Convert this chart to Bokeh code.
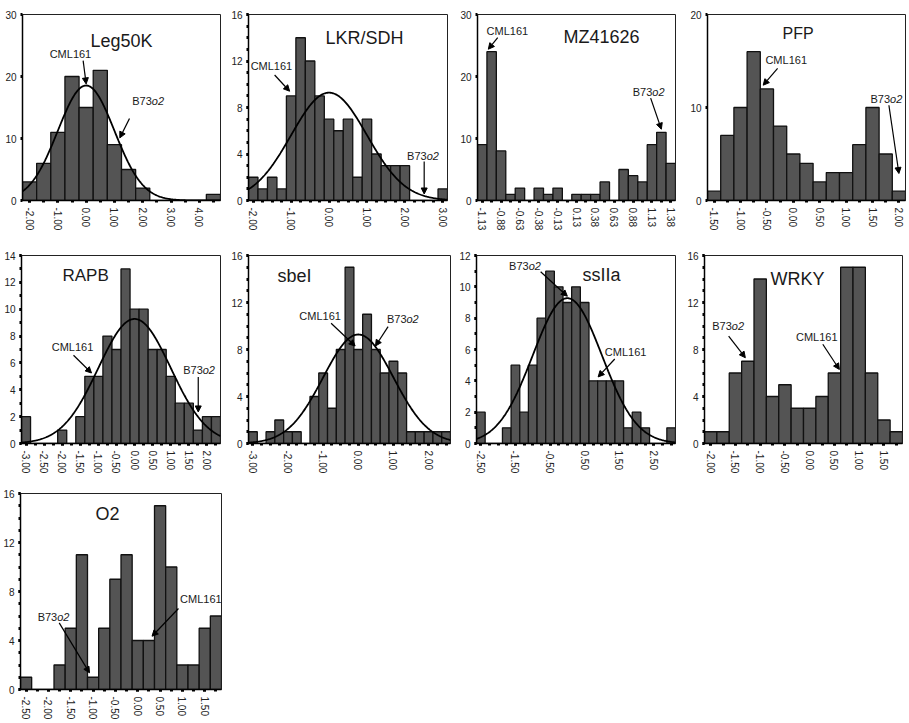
import math
import numpy as np
from bokeh.plotting import figure
from bokeh.layouts import column, row
from bokeh.models import (FixedTicker, Label, Arrow, NormalHead, Range1d,
                          CustomJSTickFormatter)
from bokeh.embed import file_html
from bokeh.resources import INLINE

FONT = "Liberation Sans"

# ---- data: frequency counts of standardized expression per gene ----
names = ["Leg50K", "LKR/SDH", "MZ41626", "PFP", "RAPB", "sbeI", "ssIIa", "WRKY", "O2"]

leg50k_counts = [3, 6, 11, 20, 15, 21, 9, 5, 2, 0, 0, 0, 0, 1]
lkr_counts = [2, 1, 2, 1, 9, 14, 12, 9, 7, 6, 7, 2, 7, 4, 3, 3, 3, 0, 0, 0, 1]
mz_counts = [9, 24, 8, 1, 2, 0, 2, 1, 2, 0, 1, 1, 1, 3, 0, 5, 4, 3, 9, 11, 6]
pfp_counts = [1, 7, 10, 16, 12, 8, 5, 4, 2, 3, 3, 6, 10, 5, 1]
rapb_counts = [2, 0, 0, 0, 1, 0, 2, 5, 5, 8, 7, 13, 10, 10, 7, 7, 5, 3, 3, 1, 2, 2]
sbei_counts = [1, 0, 1, 2, 1, 1, 0, 4, 6, 3, 8, 15, 8, 11, 8, 6, 7, 6, 1, 1, 1, 1, 1]
ssiia_counts = [2, 0, 0, 1, 5, 2, 5, 8, 11, 10, 9, 10, 9, 4, 4, 4, 4, 1, 2, 1, 0, 0, 1]
wrky_counts = [1, 1, 6, 7, 14, 4, 5, 3, 3, 4, 6, 15, 15, 6, 2, 1]
o2_counts = [1, 0, 0, 2, 5, 11, 1, 5, 9, 11, 4, 4, 15, 10, 2, 2, 5, 6]

# centre of the first bin and bin width
bin_start = [-2.0, -2.0, -1.125, -1.5, -3.0, -3.0, -2.5, -2.0, -2.5]
bin_width = [0.5, 0.25, 0.125, 0.25, 0.25, 0.25, 0.25, 0.25, 0.25]

# x tick values and their labels
x_tick_values = [
    [-2, -1, 0, 1, 2, 3, 4],
    [-2, -1, 0, 1, 2, 3],
    [-1.125, -0.875, -0.625, -0.375, -0.125, 0.125, 0.375, 0.625, 0.875, 1.125, 1.375],
    [-1.5, -1.0, -0.5, 0.0, 0.5, 1.0, 1.5, 2.0],
    [-3.0, -2.5, -2.0, -1.5, -1.0, -0.5, 0.0, 0.5, 1.0, 1.5, 2.0],
    [-3, -2, -1, 0, 1, 2],
    [-2.5, -1.5, -0.5, 0.5, 1.5, 2.5],
    [-2.0, -1.5, -1.0, -0.5, 0.0, 0.5, 1.0, 1.5],
    [-2.5, -2.0, -1.5, -1.0, -0.5, 0.0, 0.5, 1.0, 1.5],
]
x_tick_labels = [
    ["-2.00", "-1.00", "0.00", "1.00", "2.00", "3.00", "4.00"],
    ["-2.00", "-1.00", "0.00", "1.00", "2.00", "3.00"],
    ["-1.13", "-0.88", "-0.63", "-0.38", "-0.13", "0.13", "0.38", "0.63", "0.88", "1.13", "1.38"],
    ["-1.50", "-1.00", "-0.50", "0.00", "0.50", "1.00", "1.50", "2.00"],
    ["-3.00", "-2.50", "-2.00", "-1.50", "-1.00", "-0.50", "0.00", "0.50", "1.00", "1.50", "2.00"],
    ["-3.00", "-2.00", "-1.00", "0.00", "1.00", "2.00"],
    ["-2.50", "-1.50", "-0.50", "0.50", "1.50", "2.50"],
    ["-2.00", "-1.50", "-1.00", "-0.50", "0.00", "0.50", "1.00", "1.50"],
    ["-2.50", "-2.00", "-1.50", "-1.00", "-0.50", "0.00", "0.50", "1.00", "1.50"],
]
y_max = [30, 16, 30, 20, 14, 16, 12, 16, 16]
y_tick_values = [
    [0, 10, 20, 30], [0, 4, 8, 12, 16], [0, 10, 20, 30], [0, 10, 20],
    [0, 2, 4, 6, 8, 10, 12, 14], [0, 4, 8, 12, 16], [0, 2, 4, 6, 8, 10, 12],
    [0, 4, 8, 12, 16], [0, 4, 8, 12, 16],
]
y_minor_step = [None, 1, None, None, 1, 1, 1, 1, 1]

# fitted normal curve (z-scores): mean, sd; None = no curve
curve_mean = [0.0, 0.0, None, None, 0.0, 0.0, 0.0, None, None]
curve_sd = [1.0, 1.0, None, None, 1.0, 1.0, 1.0, None, None]

# marked lines: (label, x, y pointed at)
marked = [
    [("CML161", 0.0, 18.8), ("B73o2", 1.19, 10.1)],
    [("CML161", -1.04, 9.4), ("B73o2", 2.51, 0.56)],
    [("CML161", -1.044, 24.4), ("B73o2", 1.25, 11.5)],
    [("CML161", -0.57, 12.4), ("B73o2", 2.0, 2.9)],
    [("CML161", -1.19, 5.25), ("B73o2", 1.76, 2.35)],
    [("CML161", -0.09, 8.3), ("B73o2", 0.49, 8.3)],
    [("B73o2", 0.0, 9.4), ("CML161", 0.89, 4.25)],
    [("B73o2", -1.3, 7.3), ("CML161", 0.6, 6.3)],
    [("B73o2", -1.08, 1.36), ("CML161", 0.32, 4.35)],
]

counts_all = [leg50k_counts, lkr_counts, mz_counts, pfp_counts, rapb_counts,
              sbei_counts, ssiia_counts, wrky_counts, o2_counts]

# ---- layout / styling ----
# (width, height, border left, right, top, bottom)
geometry = [
    (226, 240, 22, 6, 8, 40), (230, 240, 22, 9, 10, 40),
    (226, 240, 21, 7, 12, 39), (227, 240, 25, 4, 14, 40),
    (226, 245, 21, 6, 15, 42), (230, 245, 22, 6, 13, 38),
    (226, 245, 20, 7, 14, 39), (227, 245, 22, 7, 14, 37),
    (230, 238, 18, 9, 8, 34),
]
# title offset from the frame's top-left corner (px) and font size
title_pos = [(68, 26), (77, 23), (86, 22), (75, 19), (41, 20), (29, 20), (106, 19), (66, 23), (75, 20)]
title_size = [18, 18, 18, 16, 17, 18, 18, 18, 18]
# arrow tail offset and label-centre offset from the pointed-at spot (px, down positive)
note_offsets = [
    [(-3, -24, -15.7, -30), (9.7, -20, 28.3, -37)],
    [(-15, -16.6, -18.2, -25.3), (0, -33.3, -1.2, -38.3)],
    [(9.4, -11.7, 19, -18.4), (-10.7, -31.6, -12.7, -37.6)],
    [(14.4, -16.7, 23, -25), (-10, -68.3, -12.5, -75)],
    [(-18, -17.7, -19, -26), (0, -35, 0.8, -41.7)],
    [(-24, -23.4, -35, -30), (12.6, -20, 27.3, -26.7)],
    [(-26.7, -25, -42.4, -30.7), (16.6, -18.3, 27.5, -25)],
    [(-16.7, -22.4, -17.2, -31.7), (-16.6, -26, -22.6, -32.7)],
    [(-30.6, -50, -36, -56), (26.7, -27.7, 48.8, -37.7)],
]

BAR_FILL = "#545454"
BAR_LINE = "#111111"
TEXT = "#1a1a1a"


def add_note(p, text, tx, ty, offs, sx, sy):
    adx, ady, ldx, ldy = offs
    p.add_layout(Arrow(end=NormalHead(size=6, fill_color="black", line_color="black", line_width=1),
                       x_start=tx + adx * sx, y_start=ty - ady * sy, x_end=tx, y_end=ty,
                       line_color="black", line_width=1.2))
    common = dict(x=tx, y=ty, y_offset=-ldy, text_font=FONT, text_font_size="11px",
                  text_color=TEXT, text_baseline="middle")
    if text.startswith("B73"):
        split = ldx + 3.7
        p.add_layout(Label(text="B73", x_offset=split, text_align="right", **common))
        p.add_layout(Label(text="o2", x_offset=split, text_align="left",
                           text_font_style="italic", **common))
    else:
        p.add_layout(Label(text=text, x_offset=ldx, text_align="center", **common))


def make_panel(i):
    counts = counts_all[i]
    start, bw = bin_start[i], bin_width[i]
    centers = start + bw * np.arange(len(counts))
    lo, hi = start - bw / 2, centers[-1] + bw / 2
    ymax = y_max[i]
    w, h, bl, br, bt, bb = geometry[i]

    p = figure(width=w, height=h, x_range=Range1d(lo, hi), y_range=Range1d(0, ymax),
               output_backend="svg", toolbar_location=None,
               min_border_left=bl, min_border_right=br, min_border_top=bt, min_border_bottom=bb,
               background_fill_color="white", border_fill_color="white",
               outline_line_color="#222222", outline_line_width=1)
    p.grid.visible = False

    p.quad(left=centers - bw / 2, right=centers + bw / 2, top=counts, bottom=0,
           fill_color=BAR_FILL, line_color=BAR_LINE, line_width=1.3)

    if curve_mean[i] is not None:
        mu, sd = curve_mean[i], curve_sd[i]
        xs = np.linspace(lo, hi, 300)
        ys = sum(counts) * bw * np.exp(-0.5 * ((xs - mu) / sd) ** 2) / (sd * math.sqrt(2 * math.pi))
        p.line(xs, ys, line_color="black", line_width=1.8)

    xa, ya = p.xaxis[0], p.yaxis[0]
    xa.ticker = FixedTicker(ticks=x_tick_values[i], minor_ticks=list(centers))
    xa.formatter = CustomJSTickFormatter(
        args=dict(vals=x_tick_values[i], labs=x_tick_labels[i]),
        code="const k = vals.findIndex(v => Math.abs(v - tick) < 1e-6); return k >= 0 ? labs[k] : '';")
    xa.major_label_orientation = -math.pi / 2
    xa.major_label_standoff = 5

    ystep = y_minor_step[i]
    yminor = list(range(0, ymax + 1, ystep)) if ystep else []
    ya.ticker = FixedTicker(ticks=y_tick_values[i], minor_ticks=yminor)
    ya.major_label_standoff = 4

    for ax in (xa, ya):
        ax.axis_line_color = "black"
        ax.axis_line_width = 1.5
        ax.major_tick_line_color = "black"
        ax.major_tick_line_width = 3
        ax.major_tick_out = 2
        ax.major_tick_in = 0
        ax.minor_tick_line_color = "black"
        ax.minor_tick_line_width = 3
        ax.minor_tick_out = 2
        ax.minor_tick_in = 0
        ax.major_label_text_font = FONT
        ax.major_label_text_font_size = "10px"
        ax.major_label_text_color = "#222222"

    tdx, tdy = title_pos[i]
    p.add_layout(Label(x=lo, y=ymax, x_offset=tdx, y_offset=-tdy, text=names[i],
                       text_font=FONT, text_font_size=f"{title_size[i]}px",
                       text_color=TEXT, text_align="left", text_baseline="alphabetic"))

    fw, fh = w - bl - br, h - bt - bb
    sx, sy = (hi - lo) / fw, ymax / fh
    for (txt, tx, ty), offs in zip(marked[i], note_offsets[i]):
        add_note(p, txt, tx, ty, offs, sx, sy)
    return p


panels = [make_panel(i) for i in range(9)]
layout = column(row(*panels[0:4]), row(*panels[4:8]), row(panels[8]))

open("out.html", "w").write(file_html(layout, INLINE))
